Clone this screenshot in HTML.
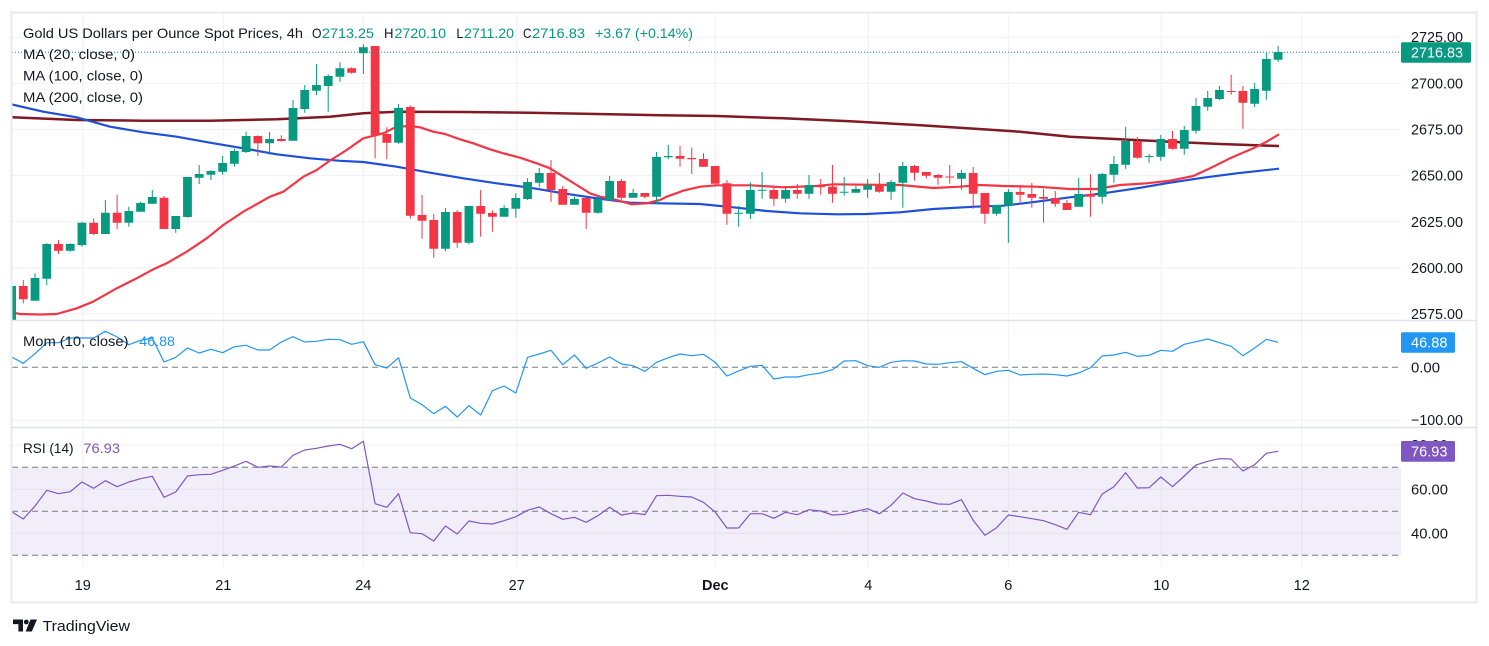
<!DOCTYPE html>
<html>
<head>
<meta charset="utf-8">
<style>
html,body{margin:0;padding:0;background:#fff;}
svg{display:block;}
text{font-family:"Liberation Sans",Arial,sans-serif;}
</style>
</head>
<body>
<svg width="1489" height="646" viewBox="0 0 1489 646" xmlns="http://www.w3.org/2000/svg">
<defs>
<clipPath id="cp"><rect x="12" y="13" width="1389" height="307"/></clipPath>
<clipPath id="cm"><rect x="12" y="320" width="1389" height="107"/></clipPath>
<clipPath id="cr"><rect x="12" y="427" width="1389" height="140"/></clipPath>
</defs>
<rect x="0" y="0" width="1489" height="646" fill="#fff"/>

<!-- grid -->
<g stroke="#f0f1f5" stroke-width="1">
<line x1="12" y1="37.2" x2="1401" y2="37.2"/>
<line x1="12" y1="83.3" x2="1401" y2="83.3"/>
<line x1="12" y1="129.5" x2="1401" y2="129.5"/>
<line x1="12" y1="175.6" x2="1401" y2="175.6"/>
<line x1="12" y1="221.8" x2="1401" y2="221.8"/>
<line x1="12" y1="267.9" x2="1401" y2="267.9"/>
<line x1="12" y1="314" x2="1401" y2="314"/>
<line x1="12" y1="420.3" x2="1401" y2="420.3"/>
<line x1="12" y1="445.3" x2="1401" y2="445.3"/>
<line x1="12" y1="489.3" x2="1401" y2="489.3"/>
<line x1="12" y1="533.3" x2="1401" y2="533.3"/>
<line x1="82.7" y1="13" x2="82.7" y2="567"/>
<line x1="223.3" y1="13" x2="223.3" y2="567"/>
<line x1="363.3" y1="13" x2="363.3" y2="567"/>
<line x1="516.7" y1="13" x2="516.7" y2="567"/>
<line x1="715.3" y1="13" x2="715.3" y2="567"/>
<line x1="868.3" y1="13" x2="868.3" y2="567"/>
<line x1="1008.3" y1="13" x2="1008.3" y2="567"/>
<line x1="1161.3" y1="13" x2="1161.3" y2="567"/>
<line x1="1301.7" y1="13" x2="1301.7" y2="567"/>
</g>

<!-- RSI band -->
<rect x="12" y="467.3" width="1389" height="88" fill="#7E57C2" fill-opacity="0.1"/>
<g stroke="#787B86" stroke-width="1" stroke-dasharray="6 4">
<line x1="12" y1="367.3" x2="1401" y2="367.3"/>
<line x1="12" y1="467.3" x2="1401" y2="467.3"/>
<line x1="12" y1="511.3" x2="1401" y2="511.3"/>
<line x1="12" y1="555.3" x2="1401" y2="555.3"/>
</g>

<!-- price pane -->
<g clip-path="url(#cp)">
<polyline fill="none" stroke="#801922" stroke-width="2.5" stroke-linejoin="round" points="12,117.3 76.7,120 143.3,120.7 210,120.7 276.7,119.3 330,116.7 363.3,113.3 396.7,111.7 463.3,112 530,112.7 596.7,114 660,115.2 716.7,116 783.3,118.3 850,121.3 916.7,125 975,128.8 1020,131.7 1070,136.7 1120,139.3 1170,141.7 1220,144 1279,146"/>
<polyline fill="none" stroke="#1E4FD8" stroke-width="2.2" stroke-linejoin="round" points="12,104.5 43.3,111.7 76.7,117.3 110,126.7 143.3,132.3 176.7,136.7 210,142.7 243.3,148.3 276.7,154.3 310,158.3 340,160.8 363.3,162 396.7,166.7 430,172.7 463.3,178.3 496.7,183.3 530,187.7 563.3,193.3 596.7,198.3 630,202.7 660,203.3 700,204 733.3,207.3 766.7,211 800,213.3 836.7,214.3 866.7,214 900,212.3 933.3,209 975,206.7 1003.3,205.7 1036.7,201.7 1070,197.3 1103.3,193.3 1136.7,188.3 1170,182.7 1203.3,177.7 1236.7,173.3 1279,168.7"/>
<polyline fill="none" stroke="#F23645" stroke-width="2.2" stroke-linejoin="round" points="12,312.5 20,314 40,314.5 56.7,314 76.7,308.3 93,301.7 116.7,288.3 136.7,278.3 153.3,269.3 166.7,263.3 186.7,251.7 206.7,238.3 223.3,225 243.3,211.7 270,196.7 283.3,191.7 303.3,176.7 316.7,170 330,160.5 346.7,150 363.3,138.3 383.3,133.3 396.7,126.7 410,126 420,127.3 433.3,131.7 445,134 460,139.3 473.3,143.3 490,149.3 503.3,153.3 520,157.7 536.7,163.3 550,168.3 563.3,176.7 576.7,185 590,193.3 600,196.7 616.7,200 631.7,204.3 646.7,203.3 660,200 666.7,196.7 683.3,190.7 700,186.7 716.7,185.3 750,185.3 783.3,187.3 816.7,186 833.3,184.3 866.7,184.7 900,185 933.3,188 960,186.7 980,185 1003.3,186 1036.7,186.7 1070,189 1096.7,189 1120,185 1146.7,183.3 1170,180.7 1193.3,176 1210,168.3 1230,158.3 1253.3,148.3 1266.7,141.7 1279,134.3"/>

<g transform="translate(11.57 0) scale(11.727 1)">
<path fill="none" stroke="#089981" stroke-width="1" vector-effect="non-scaling-stroke" d="M0 280V330 M2 273.3V300.7 M3 243.3V285 M5 243.3V251.7 M6 221.7V246.7 M8 200V234 M10 206.7V226.7 M11 201.7V211.7 M12 190V203.7 M14 216V232.7 M15 177V217.7 M16 165V184 M17 170V180 M18 156V174.7 M19 148.7V166.7 M20 131.7V153 M22 132V154.7 M24 100V140.7 M25 85V112.7 M26 64V95 M27 74.3V111.7 M28 62.3V81.7 M30 44.3V74 M33 104V143.7 M37 208V251.3 M39 206V244.3 M42 205V216.7 M43 193.3V217.7 M44 178.3V200 M45 168V187.3 M48 196.7V204.7 M50 195V213.7 M51 176V200.7 M53 189V197.7 M55 152V204.3 M56 145V159.3 M62 206V226.7 M63 182.3V219 M64 172V198.7 M66 186V202.7 M68 175V198.7 M71 177V195.7 M72 185.7V192.7 M73 179V197.7 M75 180V199.7 M76 162V207.7 M81 170V189.7 M84 205V215.7 M85 189V242.7 M91 178V206.7 M93 172.7V203.7 M94 156V182.7 M95 126.7V168.7 M97 154V162.7 M98 135V160.7 M100 126V154.7 M101 98V133.7 M102 91V110.7 M103 86V100 M106 83V107 M107 53V99.7 M108 46V62"/>
<path fill="#089981" d="M-.375 286h.75V330h-.75z M1.625 278h.75V300.7h-.75z M2.625 244h.75V278.7h-.75z M4.625 244h.75V250.7h-.75z M5.625 222.7h.75V245h-.75z M7.625 212.7h.75V234h-.75z M9.625 211h.75V222.7h-.75z M10.625 203h.75V211.7h-.75z M11.625 197h.75V203.7h-.75z M13.625 216h.75V229h-.75z M14.625 177h.75V217h-.75z M15.625 174h.75V177.7h-.75z M16.625 171h.75V174.7h-.75z M17.625 163h.75V171.7h-.75z M18.625 151h.75V163.7h-.75z M19.625 136h.75V152h-.75z M21.625 139h.75V143.3h-.75z M23.625 108h.75V140.7h-.75z M24.625 90h.75V109h-.75z M25.625 85h.75V90.7h-.75z M26.625 76h.75V86h-.75z M27.625 68.3h.75V76.7h-.75z M29.625 47.3h.75V53.3h-.75z M32.625 108h.75V142.7h-.75z M36.625 212h.75V248.7h-.75z M38.625 206h.75V242.7h-.75z M41.625 208h.75V216.7h-.75z M42.625 198h.75V208.7h-.75z M43.625 182h.75V199h-.75z M44.625 173h.75V182.7h-.75z M47.625 199h.75V204.7h-.75z M49.625 199h.75V212.7h-.75z M50.625 181h.75V200h-.75z M52.625 193h.75V197.7h-.75z M54.625 157h.75V196.7h-.75z M55.625 156h.75V157.3h-.75z M61.625 212.7h.75V213.7h-.75z M62.625 190h.75V213.7h-.75z M63.625 189.7h.75V190.7h-.75z M65.625 190h.75V198.7h-.75z M67.625 185h.75V193.7h-.75z M70.625 191.7h.75V192.7h-.75z M71.625 189h.75V192.7h-.75z M72.625 185h.75V189.7h-.75z M74.625 182h.75V191.7h-.75z M75.625 166h.75V182.7h-.75z M80.625 173h.75V178.7h-.75z M83.625 205h.75V213.7h-.75z M84.625 192h.75V205.7h-.75z M90.625 194h.75V206.7h-.75z M92.625 174h.75V196.7h-.75z M93.625 164h.75V174.7h-.75z M94.625 141h.75V164.7h-.75z M96.625 156h.75V157h-.75z M97.625 139h.75V156.7h-.75z M99.625 130h.75V148.7h-.75z M100.625 106h.75V130.7h-.75z M101.625 98h.75V106.7h-.75z M102.625 90h.75V99h-.75z M105.625 89h.75V103.7h-.75z M106.625 59h.75V90.7h-.75z M107.625 52h.75V59.7h-.75z"/>
<path fill="none" stroke="#F23645" stroke-width="1" vector-effect="non-scaling-stroke" d="M1 280V303.3 M4 240V254 M7 218.3V235 M9 194.7V229 M13 195.7V229 M21 135.3V156 M23 135.3V141.7 M29 67.3V73.7 M31 46V158.3 M32 127.3V159.3 M34 105.3V218.7 M35 195V238.7 M36 214V257.7 M38 210V247.7 M40 190V236.7 M41 210.3V231.7 M46 160V201.7 M47 186V204.7 M49 198V229 M52 179V200 M54 193V198.3 M57 146V166.7 M58 147.7V174 M59 153.3V166.7 M60 166V186.7 M61 180V224.7 M65 186.7V205.7 M67 184V198.7 M69 179V194.7 M70 165V202.7 M74 173V192.7 M77 165V180.7 M78 172V178.7 M79 174V184.7 M80 165V183.7 M82 167V208.7 M83 193V223.7 M86 185V202.3 M87 183V207.7 M88 188.7V222.7 M89 191V206.7 M90 200V210 M92 174V216.7 M96 137V158.7 M99 131V149.7 M104 75V94.7 M105 86V128.7"/>
<path fill="#F23645" d="M.625 286h.75V299.3h-.75z M3.625 244h.75V250.7h-.75z M6.625 222.7h.75V234h-.75z M8.625 212.7h.75V222.7h-.75z M12.625 197.7h.75V229h-.75z M20.625 136h.75V143.3h-.75z M22.625 139h.75V141h-.75z M28.625 68.3h.75V72.7h-.75z M30.625 46h.75V135h-.75z M31.625 134h.75V142.7h-.75z M33.625 107h.75V215.7h-.75z M34.625 215h.75V220.7h-.75z M35.625 220h.75V248.7h-.75z M37.625 212h.75V242.7h-.75z M39.625 206h.75V213.7h-.75z M40.625 213h.75V216.7h-.75z M45.625 173h.75V190h-.75z M46.625 189h.75V204.7h-.75z M48.625 198h.75V212.7h-.75z M51.625 181h.75V197.7h-.75z M53.625 193h.75V196.7h-.75z M56.625 156h.75V158.7h-.75z M57.625 158h.75V159.3h-.75z M58.625 159h.75V166.7h-.75z M59.625 166h.75V183.7h-.75z M60.625 183.3h.75V213.7h-.75z M64.625 190h.75V198.7h-.75z M66.625 190h.75V193.7h-.75z M68.625 185h.75V187.3h-.75z M69.625 186.7h.75V193.7h-.75z M73.625 184h.75V191.7h-.75z M76.625 166h.75V172.7h-.75z M77.625 172h.75V175.7h-.75z M78.625 175h.75V177.7h-.75z M79.625 176.5h.75V177.5h-.75z M81.625 173h.75V193.7h-.75z M82.625 193h.75V213.7h-.75z M85.625 192h.75V194.7h-.75z M86.625 194h.75V197.7h-.75z M87.625 197h.75V198.7h-.75z M88.625 198h.75V203.7h-.75z M89.625 203h.75V210h-.75z M91.625 194h.75V196.7h-.75z M95.625 141h.75V157.7h-.75z M98.625 139h.75V148.7h-.75z M103.625 91h.75V92h-.75z M104.625 91h.75V102.7h-.75z"/>
</g>
<line x1="12" y1="52.2" x2="1401" y2="52.2" stroke="#089981" stroke-width="1" stroke-dasharray="1 2"/>
</g>

<!-- momentum -->
<g clip-path="url(#cm)">
<polyline transform="translate(11.57 0) scale(11.727 1)" vector-effect="non-scaling-stroke" fill="none" stroke="#2196F3" stroke-width="1.2" stroke-linejoin="round" points="0,357 1,363.3 2,353.7 3,342.7 4,342.7 5,338 6,338 7,338 8,331.3 9,337 10,344.7 11,340.3 12,338 13,362 14,357.3 15,348 16,353 17,349.3 18,352.7 19,346.7 20,345.3 21,350 22,350 23,342 24,336.7 25,342 26,341.3 27,339.3 28,339.7 29,344.3 30,341.7 31,364.7 32,368 33,357.7 34,398 35,404.7 36,413.7 37,406.3 38,417 39,405.7 40,415 41,390.7 42,386 43,393 44,357.3 45,354 46,350.3 47,364.7 48,355 49,368.3 50,363 51,357 52,364 53,365.7 54,371.3 55,362.3 56,357.7 57,354 58,355.7 59,354.3 60,362.3 61,376 62,371 63,366.3 64,365.3 65,379 66,377 67,377 68,374.7 69,373 70,369.7 71,361 72,360.7 73,365.7 74,367.3 75,362.3 76,360.7 77,361 78,364 79,364.3 80,362.7 81,361.7 82,368.3 83,374.7 84,371.3 85,370.3 86,375 87,374.3 88,374 89,374.7 90,376 91,373 92,367.7 93,356 94,355 95,352.3 96,356.3 97,355.3 98,350.3 99,351.3 100,344.3 101,341.7 102,339 103,342.7 104,346.3 105,355.7 106,348 107,339.3 108,342.3"/>
</g>

<!-- RSI -->
<g clip-path="url(#cr)">
<polyline transform="translate(11.57 0) scale(11.727 1)" vector-effect="non-scaling-stroke" fill="none" stroke="#7E57C2" stroke-width="1.2" stroke-linejoin="round" points="0,511.7 1,519 2,506 3,490.3 4,493.7 5,491.7 6,482 7,488.3 8,480.7 9,486.7 10,482 11,478.7 12,476.3 13,497.3 14,492 15,476 16,474.7 17,474.3 18,470.3 19,466 20,461.3 21,467.3 22,466 23,467 24,455.3 25,450 26,448.3 27,446 28,444.3 29,448.7 30,441.3 31,503.7 32,507.3 33,493.7 34,532.7 35,533.7 36,541 37,526 38,534 39,521 40,523.3 41,524 42,520.7 43,516.7 44,510.3 45,507 46,513.7 47,519.3 48,517.3 49,522.3 50,515.7 51,507.3 52,515 53,513 54,514.7 55,495.7 56,495.3 57,496.3 58,497 59,502.3 60,512 61,528 62,528 63,513.7 64,513.7 65,518.3 66,512.3 67,514.7 68,509.7 69,511 70,515 71,514.3 72,511.3 73,508.7 74,513.7 75,505.3 76,493 77,498.7 78,501 79,504 80,504.3 81,499.7 82,520.3 83,535.3 84,527.7 85,515 86,516.7 87,518.7 88,520.7 89,524.7 90,529.3 91,512.3 92,514.7 93,494 94,486.7 95,472.7 96,488 97,487.7 98,477 99,486.7 100,476 101,465 102,461.3 103,458.7 104,459 105,471 106,464.7 107,453.3 108,451.3"/>
</g>

<!-- pane separators & frame -->
<line x1="12" y1="320.5" x2="1476" y2="320.5" stroke="#e0e3eb" stroke-width="1.5"/>
<line x1="12" y1="427.5" x2="1476" y2="427.5" stroke="#e0e3eb" stroke-width="1.5"/>
<rect x="11.5" y="12.5" width="1465" height="590" fill="none" stroke="#e9eaef" stroke-width="2"/>

<!-- legends -->
<g font-size="14" fill="#131722">
<text x="23" y="38" textLength="280" lengthAdjust="spacingAndGlyphs">Gold US Dollars per Ounce Spot Prices, 4h</text>
<text x="312" y="38" textLength="9.5" lengthAdjust="spacingAndGlyphs">O</text>
<text x="322" y="38" textLength="52" lengthAdjust="spacingAndGlyphs" fill="#089981">2713.25</text>
<text x="384" y="38" textLength="9.5" lengthAdjust="spacingAndGlyphs">H</text>
<text x="394.5" y="38" textLength="51.5" lengthAdjust="spacingAndGlyphs" fill="#089981">2720.10</text>
<text x="456.4" y="38" textLength="7" lengthAdjust="spacingAndGlyphs">L</text>
<text x="464" y="38" textLength="50" lengthAdjust="spacingAndGlyphs" fill="#089981">2711.20</text>
<text x="523" y="38" textLength="8.5" lengthAdjust="spacingAndGlyphs">C</text>
<text x="532" y="38" textLength="53" lengthAdjust="spacingAndGlyphs" fill="#089981">2716.83</text>
<text x="595" y="38" textLength="98" lengthAdjust="spacingAndGlyphs" fill="#089981">+3.67 (+0.14%)</text>
<text x="23" y="59" textLength="112" lengthAdjust="spacingAndGlyphs">MA (20, close, 0)</text>
<text x="23" y="80.5" textLength="120" lengthAdjust="spacingAndGlyphs">MA (100, close, 0)</text>
<text x="23" y="102" textLength="120" lengthAdjust="spacingAndGlyphs">MA (200, close, 0)</text>
<text x="23" y="346" textLength="105.5" lengthAdjust="spacingAndGlyphs">Mom (10, close)</text>
<text x="139.3" y="346" textLength="35.7" lengthAdjust="spacingAndGlyphs" fill="#2196F3">46.88</text>
<text x="23" y="453" textLength="50.5" lengthAdjust="spacingAndGlyphs">RSI (14)</text>
<text x="83.3" y="453" textLength="36.7" lengthAdjust="spacingAndGlyphs" fill="#7E57C2">76.93</text>
</g>

<!-- price axis -->
<g font-size="14.5" fill="#131722">
<text x="1411" y="42.2" textLength="52" lengthAdjust="spacingAndGlyphs">2725.00</text>
<text x="1411" y="88.3" textLength="52" lengthAdjust="spacingAndGlyphs">2700.00</text>
<text x="1411" y="134.5" textLength="52" lengthAdjust="spacingAndGlyphs">2675.00</text>
<text x="1411" y="180.6" textLength="52" lengthAdjust="spacingAndGlyphs">2650.00</text>
<text x="1411" y="226.8" textLength="52" lengthAdjust="spacingAndGlyphs">2625.00</text>
<text x="1411" y="272.9" textLength="52" lengthAdjust="spacingAndGlyphs">2600.00</text>
<text x="1411" y="319" textLength="52" lengthAdjust="spacingAndGlyphs">2575.00</text>
<text x="1411" y="372.7" textLength="29" lengthAdjust="spacingAndGlyphs">0.00</text>
<text x="1411" y="425" textLength="52" lengthAdjust="spacingAndGlyphs">−100.00</text>
<text x="1411" y="450" textLength="37" lengthAdjust="spacingAndGlyphs">80.00</text>
<text x="1411" y="494.3" textLength="37" lengthAdjust="spacingAndGlyphs">60.00</text>
<text x="1411" y="538.3" textLength="37" lengthAdjust="spacingAndGlyphs">40.00</text>
</g>

<!-- value badges -->
<rect x="1401" y="42.3" width="70" height="20.4" rx="1.5" fill="#089981"/>
<text x="1411" y="57.5" font-size="14.5" fill="#fff" textLength="52" lengthAdjust="spacingAndGlyphs">2716.83</text>
<rect x="1401" y="332.3" width="54" height="20.4" rx="1.5" fill="#2196F3"/>
<text x="1411" y="347.5" font-size="14.5" fill="#fff" textLength="36.5" lengthAdjust="spacingAndGlyphs">46.88</text>
<rect x="1401" y="441" width="54" height="20.7" rx="1.5" fill="#7E57C2"/>
<text x="1411" y="456.3" font-size="14.5" fill="#fff" textLength="36.5" lengthAdjust="spacingAndGlyphs">76.93</text>

<!-- time axis -->
<g font-size="14.5" fill="#131722" text-anchor="middle">
<text x="82.7" y="590">19</text>
<text x="223.3" y="590">21</text>
<text x="363.3" y="590">24</text>
<text x="516.7" y="590">27</text>
<text x="715.3" y="590" font-weight="bold">Dec</text>
<text x="868.3" y="590">4</text>
<text x="1008.3" y="590">6</text>
<text x="1161.3" y="590">10</text>
<text x="1301.7" y="590">12</text>
</g>

<!-- TradingView logo -->
<g fill="#131722">
<path d="M13 619.5h10v12h-4.6v-7.4H13z"/>
<circle cx="26.3" cy="622" r="2.4"/>
<path d="M30.5 619.5h6.5l-5.2 12h-6.2z"/>
</g>
<text x="42.5" y="631" font-size="15" fill="#131722" textLength="87.5" lengthAdjust="spacingAndGlyphs">TradingView</text>
</svg>
</body>
</html>
